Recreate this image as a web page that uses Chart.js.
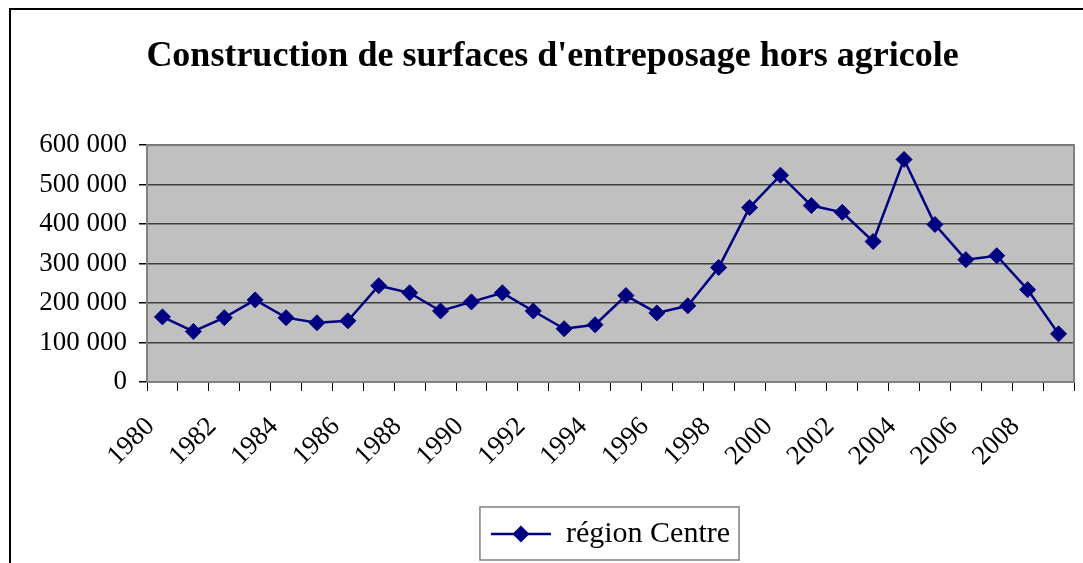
<!DOCTYPE html>
<html>
<head>
<meta charset="utf-8">
<script src="https://cdn.jsdelivr.net/npm/chart.js@4"></script>
<style>
  html, body { margin: 0; padding: 0; background: #fff; }
  #wrap { width: 1083px; height: 563px; position: relative; }
</style>
</head>
<body>
<div id="wrap"><canvas id="chart"></canvas></div>
<script>
const years = ["1980", "1981", "1982", "1983", "1984", "1985", "1986", "1987", "1988", "1989",
               "1990", "1991", "1992", "1993", "1994", "1995", "1996", "1997", "1998", "1999",
               "2000", "2001", "2002", "2003", "2004", "2005", "2006", "2007", "2008", "2009"];
const regionCentre = [165000, 128000, 163000, 208000, 163000, 150000, 155000, 244000, 226000, 180000,
                      203000, 226000, 180000, 135000, 145000, 219000, 175000, 193000, 290000, 442000,
                      524000, 447000, 430000, 356000, 564000, 399000, 310000, 320000, 234000, 122000];
const seriesName = "région Centre";
const chartTitle = "Construction de surfaces d'entreposage hors agricole";
const yMax = 600000;
const yStep = 100000;

const serif = 'Liberation Serif, "Times New Roman", serif';
const navy = '#000080';

function diamond(ctx, x, y, r) {
  ctx.beginPath();
  ctx.moveTo(x, y - r);
  ctx.lineTo(x + r, y);
  ctx.lineTo(x, y + r);
  ctx.lineTo(x - r, y);
  ctx.closePath();
  ctx.fill();
}

// grey plot background, plot frame, legend box, outer frame
const decorations = {
  id: 'decorations',
  beforeDraw(chart) {
    const a = chart.chartArea, ctx = chart.ctx;
    ctx.save();
    ctx.fillStyle = '#c0c0c0';
    ctx.fillRect(a.left, a.top, a.right - a.left, a.bottom - a.top);
    ctx.restore();
  },
  afterDraw(chart) {
    const a = chart.chartArea, ctx = chart.ctx;
    ctx.save();
    ctx.strokeStyle = '#808080';
    ctx.lineWidth = 2;
    ctx.strokeRect(a.left, a.top, a.right - a.left, a.bottom - a.top);

    const lg = chart.legend;
    if (lg && lg.legendHitBoxes && lg.legendHitBoxes.length) {
      const hb = lg.legendHitBoxes[0];
      const fs = lg.options.labels.font.size;
      const bw = lg.options.labels.pointStyleWidth;
      const cy = hb.top + fs / 2;
      ctx.strokeStyle = navy;
      ctx.lineWidth = 2.5;
      ctx.beginPath();
      ctx.moveTo(hb.left, cy);
      ctx.lineTo(hb.left + bw, cy);
      ctx.stroke();
      ctx.fillStyle = navy;
      diamond(ctx, hb.left + bw / 2, cy, 8.5);
      ctx.strokeStyle = '#808080';
      ctx.lineWidth = 1.5;
      ctx.strokeRect(hb.left - 11, cy - 27, hb.width + 20, 53);
    }

    ctx.strokeStyle = '#000';
    ctx.lineWidth = 2;
    ctx.strokeRect(10, 9, chart.width + 20, chart.height + 20);
    ctx.restore();
  }
};

new Chart(document.getElementById('chart'), {
  type: 'line',
  data: {
    labels: years,
    datasets: [{
      label: seriesName,
      data: regionCentre,
      borderColor: navy,
      backgroundColor: navy,
      borderWidth: 2.5,
      tension: 0,
      pointStyle: 'rectRot',
      pointRadius: 8,
      pointBackgroundColor: navy,
      pointBorderColor: navy,
      pointBorderWidth: 1
    }]
  },
  options: {
    responsive: true,
    maintainAspectRatio: false,
    animation: false,
    layout: { padding: { left: 30, right: 8, top: 0, bottom: 4 } },
    plugins: {
      title: {
        display: true,
        text: chartTitle,
        color: '#000',
        font: { family: serif, size: 36, weight: 'bold' },
        padding: { top: 35, bottom: 67 }
      },
      legend: {
        position: 'bottom',
        fullSize: false,
        labels: {
          usePointStyle: true,
          pointStyle: 'line',
          pointStyleWidth: 60,
          color: '#000',
          font: { family: serif, size: 30 },
          padding: 12
        }
      },
      tooltip: { enabled: false }
    },
    scales: {
      x: {
        offset: true,
        grid: { offset: true, drawOnChartArea: false, drawTicks: true, tickLength: 9, color: '#000' },
        border: { color: '#808080', width: 2 },
        ticks: {
          autoSkip: false,
          minRotation: 45,
          maxRotation: 45,
          padding: 20,
          labelOffset: -12,
          color: '#000',
          font: { family: serif, size: 27 },
          callback: (v, i) => (i % 2 === 0 ? years[i] : '')
        },
        afterFit: s => { s.height = 125; s.paddingLeft = 0; s.paddingRight = 0; }
      },
      y: {
        min: 0,
        max: yMax,
        border: { color: '#808080', width: 2 },
        grid: { color: '#404040', lineWidth: 1.5, tickLength: 8, tickColor: '#000' },
        ticks: {
          stepSize: yStep,
          padding: 12,
          color: '#000',
          font: { family: serif, size: 27 },
          callback: v => v.toLocaleString('fr-FR').replace(/\s/g, ' ')
        },
        afterFit: s => { s.width = 117; }
      }
    }
  },
  plugins: [decorations]
});
</script>
</body>
</html>
